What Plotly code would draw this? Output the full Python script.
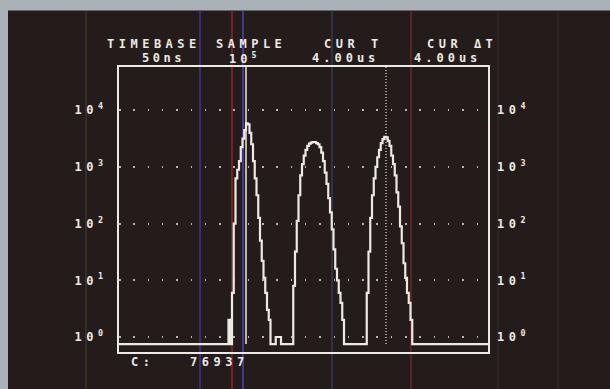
import plotly.graph_objects as go

# ---------------- data ----------------
timebase_ns = 50            # one histogram channel (TIMEBASE)
n_channels = 220
cursor_t_us = 4.00          # CUR T
cursor_dt_us = 4.00         # CUR ΔT
sample_exp = 5              # SAMPLE 10^5
total_count = 76937         # C:

segment_start = [70, 72, 97, 107, 149]
segment_counts = [
    [2],
    [6, 100, 630, 890, 1260, 2240, 3160, 4470, 5890, 5620, 3980, 2510, 1260,
     630, 316, 126, 50, 22, 11, 6, 3, 2],
    [1, 1, 1],
    [8, 32, 112, 316, 708, 1120, 1580, 2000, 2340, 2570, 2690, 2750, 2750, 2630,
     2510, 2240, 1780, 1260, 794, 500, 282, 158, 79, 35, 16, 10, 6, 4, 2],
    [6, 32, 126, 316, 630, 1000, 1480, 2000, 2630, 3090, 3390, 3310, 2880, 2340,
     1580, 1120, 708, 355, 200, 89, 45, 20, 11, 6, 4, 2],
]
decades = [0, 1, 2, 3, 4]

# build full channel histogram
counts = [0] * n_channels
for s, seg in zip(segment_start, segment_counts):
    for i, c in enumerate(seg):
        counts[s + i] = c
t_us = [k * timebase_ns / 1000 for k in range(n_channels + 1)]
counts = counts + [0]
ZERO_FLOOR = 0.75   # where empty channels sit on the log display
y_plot = [c if c > 0 else ZERO_FLOOR for c in counts]

# ---------------- style / layout ----------------
BG = "#231c1b"
FG = "#eee9e3"
FRAME = "#aab1b8"
FONT = "DejaVu Sans Mono"
L, R, T, B = 119, 488, 67, 352
W, H = 610, 389


def xp(px):
    return (px - L) / (R - L)


def yp(py):
    return (B - py) / (B - T)


def spaced(s, ls, size):
    return f'<span style="letter-spacing:{ls}px;font-size:{size}px">{s}</span>'


fig = go.Figure()
fig.add_trace(go.Scatter(x=t_us, y=y_plot, mode="lines", line_shape="hv",
                         line=dict(color=FG, width=2.2), hoverinfo="skip",
                         showlegend=False))
fig.add_trace(go.Scatter(x=[t_us[0]], y=[1], yaxis="y2", mode="markers",
                         marker=dict(opacity=0), hoverinfo="skip",
                         showlegend=False))

ticktext = [spaced(f"10<sup>{d}</sup>", 4.5, 12) for d in decades]
tickvals = [10 ** d for d in decades]
yrange = [-15 / 56.7, 270 / 56.7]

yaxis_common = dict(type="log", range=yrange, tickvals=tickvals, ticktext=ticktext,
                    ticks="", zeroline=False,
                    tickfont=dict(family=FONT, size=12, color=FG, weight="bold"))

shapes = []
# dark CRT screen inside the grey photo frame
shapes.append(dict(type="rect", xref="paper", yref="paper",
                   x0=xp(8), x1=xp(W + 2), y0=yp(H + 2), y1=yp(10.5),
                   fillcolor=BG, line=dict(width=0), layer="below"))
# faint CRT photo streaks
for px, col, wdt in [(86, "rgba(120,110,60,0.3)", 1.5),
                     (200, "rgba(70,55,160,0.65)", 2),
                     (232, "rgba(150,40,35,0.7)", 2),
                     (243, "rgba(80,70,190,0.7)", 2),
                     (332, "rgba(40,80,110,0.5)", 2),
                     (411, "rgba(130,40,40,0.6)", 2),
                     (498, "rgba(110,100,80,0.25)", 1),
                     (558, "rgba(110,100,80,0.25)", 1)]:
    shapes.append(dict(type="line", xref="paper", yref="paper",
                       x0=xp(px), x1=xp(px), y0=yp(H), y1=yp(10.5),
                       line=dict(color=col, width=wdt), layer="below"))
# cursors
c1 = cursor_t_us
c2 = cursor_t_us + cursor_dt_us
shapes.append(dict(type="line", xref="x", yref="paper", x0=c1, x1=c1,
                   y0=yp(344), y1=1, line=dict(color=FG, width=1.5)))
shapes.append(dict(type="line", xref="x", yref="paper", x0=c2, x1=c2,
                   y0=yp(344), y1=1, line=dict(color=FG, width=1.2, dash="1px,2px")))

ann = []


def txt(s, px, py, size=12, ls=4.5):
    ann.append(dict(text=spaced(s, ls, size), xref="paper", yref="paper",
                    x=xp(px), y=yp(py), xanchor="left", yanchor="middle",
                    showarrow=False, borderpad=0, borderwidth=0,
                    font=dict(family=FONT, size=size, color=FG, weight="bold")))


txt("TIMEBASE", 107, 44.5)
txt("SAMPLE", 216, 44.5)
txt("CUR T", 324, 44.5)
txt("CUR ΔT", 427, 44.5)
txt(f"{timebase_ns}ns", 142, 58, ls=3.5)
txt(f"10<sup>{sample_exp}</sup>", 229, 58, ls=4)
txt(f"{cursor_t_us:.2f}us", 312, 58, ls=4)
txt(f"{cursor_dt_us:.2f}us", 414, 58, ls=4)
txt("C:", 131, 362.5)
txt(f"{total_count}", 190, 362.5, ls=4.5)

fig.update_layout(
    width=W, height=H,
    margin=dict(l=L, r=W - R, t=T, b=H - B, pad=0),
    paper_bgcolor=FRAME, plot_bgcolor=BG,
    xaxis=dict(range=[(L - 106) / 35, (R - 106) / 35], showgrid=False,
               zeroline=False, showticklabels=False, ticks="",
               showline=True, mirror=True, linecolor=FG, linewidth=2),
    yaxis=dict(**yaxis_common, side="left", showgrid=True, gridcolor="#bdb5ac",
               gridwidth=1.5, griddash="1.5px,12.8px", showline=True, mirror=True,
               linecolor=FG, linewidth=2, ticklabelstandoff=7),
    yaxis2=dict(**yaxis_common, side="right", overlaying="y", showgrid=False,
                showline=False, ticklabelstandoff=8),
    shapes=shapes, annotations=ann,
)

fig.write_html("out.html", config={"displayModeBar": False},
               post_script="document.body.style.margin='0';document.body.style.background='%s';" % FRAME)
